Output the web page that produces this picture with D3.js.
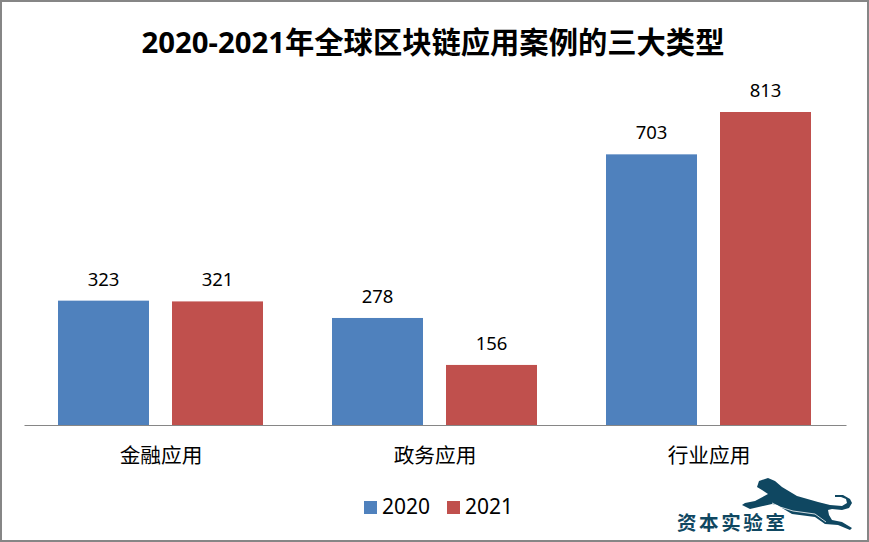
<!DOCTYPE html>
<html><head><meta charset="utf-8">
<script src="https://cdn.jsdelivr.net/npm/d3@7/dist/d3.min.js"></script>
<style>html,body{margin:0;padding:0;background:#fff}svg{display:block}text{font-family:"Noto Sans","Noto Sans CJK SC",sans-serif}</style>
</head><body><script>
const categories = ["金融应用","政务应用","行业应用"];
const seriesNames = ["2020","2021"];
const values2020 = [323,278,703];
const values2021 = [321,156,813];
const colors = ["#4f81bd","#c0504d"];
const W=869,H=542;
const svg=d3.select("body").append("svg").attr("width",W).attr("height",H);
svg.append("rect").attr("x",1).attr("y",1).attr("width",W-2).attr("height",H-2).attr("fill","#fff").attr("stroke","#868686").attr("stroke-width",2);
svg.append("text").attr("x",433).attr("y",53).attr("text-anchor","middle").attr("font-size",29.3).attr("font-weight",700).attr("fill","#000").text("2020-2021年全球区块链应用案例的三大类型");
const x0=d3.scaleBand().domain(categories).range([24,846]);
const x1=d3.scaleBand().domain(seriesNames).range([34,239]).paddingInner(23/114);
const y=d3.scaleLinear().domain([0,813]).range([425,112]);
const data=[values2020,values2021];
seriesNames.forEach((s,si)=>{
  const g=svg.append("g");
  g.selectAll("rect").data(data[si]).join("rect")
    .attr("x",(d,i)=>x0(categories[i])+x1(s)).attr("y",d=>y(d))
    .attr("width",x1.bandwidth()).attr("height",d=>y(0)-y(d)).attr("fill",colors[si]);
  g.selectAll("text").data(data[si]).join("text")
    .attr("x",(d,i)=>x0(categories[i])+x1(s)+x1.bandwidth()/2).attr("y",d=>y(d)-15)
    .attr("text-anchor","middle").attr("font-size",18.5).attr("fill","#000").text(d=>d);
});
const ax=svg.append("g").attr("transform","translate(0,425)").call(d3.axisBottom(x0).tickSize(0).tickPadding(23));
ax.select(".domain").attr("stroke","#868686");
ax.selectAll("text").attr("font-size",20.7).attr("fill","#000").attr("font-family",'"Noto Sans CJK SC","Noto Sans",sans-serif');
const leg=svg.append("g");
const legX=[364,447];
seriesNames.forEach((s,i)=>{
  leg.append("rect").attr("x",legX[i]).attr("y",501).attr("width",13).attr("height",13).attr("fill",colors[i]);
  leg.append("text").attr("x",legX[i]+18).attr("y",514).attr("font-size",21).attr("fill","#000").text(s);
});
// logo
const logo=svg.append("g");
logo.append("text").attr("x",677).attr("y",530).attr("font-size",19.5).attr("font-weight",700).attr("fill","#0f4761").attr("textLength",108).attr("lengthAdjust","spacing").attr("font-family",'"Noto Sans CJK SC",sans-serif').text("资本实验室");
logo.append("path").attr("fill","#0f4761").attr("d","M757 487L759 481L768 478L775 481L782 487L797 496L818 502L830 505L842 506L847 503L846 499L841 497L835 497L835 495L843 495L850 499L852 503L849 508L842 510L832 509L828 510L829 515L832 520L842 522L852 528L850 530L838 525L825 524L815 517L792 514L777 505L772 504L750 509L742 505L745 503L755 501L768 494L762 490Z");
logo.append("path").attr("fill","none").attr("stroke","#fff").attr("stroke-width",0.8).attr("d","M772 503L780 507L793 511L815 514L826 522");
</script></body></html>
